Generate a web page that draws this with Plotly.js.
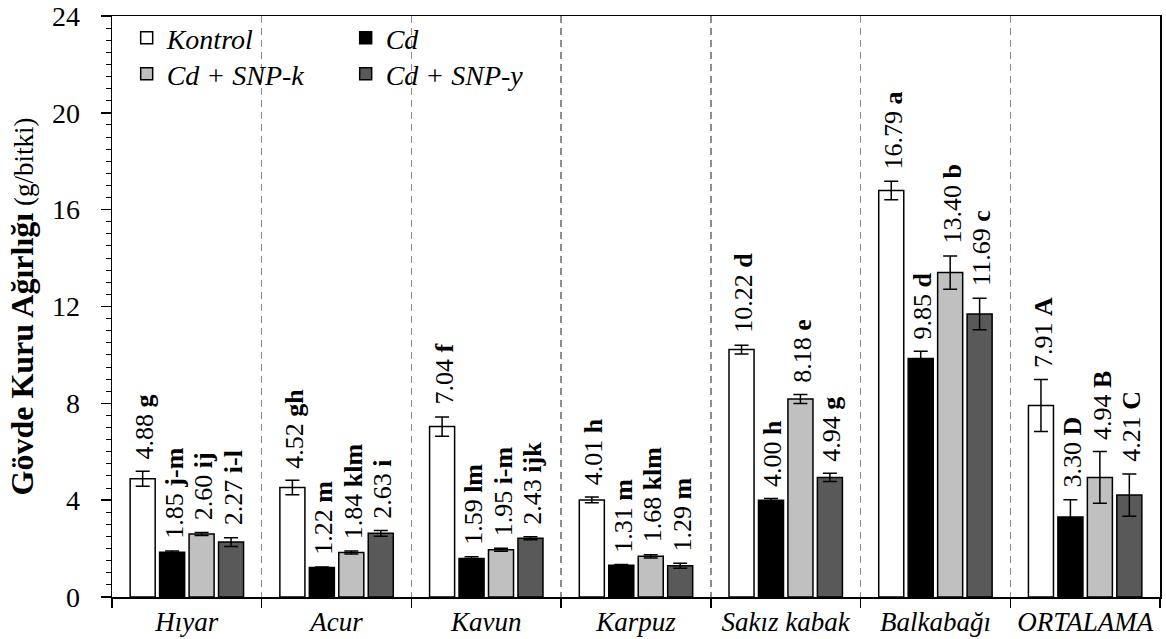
<!DOCTYPE html>
<html>
<head>
<meta charset="utf-8">
<script src="https://cdn.plot.ly/plotly-3.0.1.min.js"></script>
<style>html,body{margin:0;padding:0;background:#fff;}#chart{width:1166px;height:639px;}</style>
</head>
<body>
<div id="chart"></div>
<script>
const categories = ['Hıyar', 'Acur', 'Kavun', 'Karpuz', 'Sakız kabak', 'Balkabağı', 'ORTALAMA'];
const seriesNames = ['Kontrol', 'Cd', 'Cd + SNP-k', 'Cd + SNP-y'];

const kontrol = [4.88, 4.52, 7.04, 4.01, 10.22, 16.79, 7.91];
const cd      = [1.85, 1.22, 1.59, 1.31, 4.00, 9.85, 3.30];
const snpK    = [2.60, 1.84, 1.95, 1.68, 8.18, 13.40, 4.94];
const snpY    = [2.27, 2.63, 2.43, 1.29, 4.94, 11.69, 4.21];

const errKontrol = [0.31, 0.30, 0.40, 0.12, 0.18, 0.38, 1.07];
const errCd      = [0.05, 0.02, 0.07, 0.03, 0.07, 0.30, 0.72];
const errSnpK    = [0.06, 0.06, 0.06, 0.07, 0.19, 0.69, 1.07];
const errSnpY    = [0.18, 0.12, 0.06, 0.10, 0.17, 0.65, 0.87];

const letKontrol = ['g', 'gh', 'f', 'h', 'd', 'a', 'A'];
const letCd      = ['j-m', 'm', 'lm', 'm', 'h', 'd', 'D'];
const letSnpK    = ['ij', 'klm', 'i-m', 'klm', 'e', 'b', 'B'];
const letSnpY    = ['i-l', 'i', 'ijk', 'm', 'g', 'c', 'C'];

const values = [kontrol, cd, snpK, snpY];
const errors = [errKontrol, errCd, errSnpK, errSnpY];
const letters = [letKontrol, letCd, letSnpK, letSnpY];
const colors = ['#ffffff', '#000000', '#c0c0c0', '#595959'];
const legendIds = ['legend', 'legend', 'legend2', 'legend2'];

const FONT = 'Liberation Serif';
const bargap = 0.213;
const bargroupgap = 0.15;

const traces = values.map((v, si) => ({
  type: 'bar',
  name: seriesNames[si],
  x: categories,
  y: v,
  legend: legendIds[si],
  marker: {color: colors[si], line: {color: '#000', width: 1.5}},
  error_y: {type: 'data', array: errors[si], visible: true, color: '#000', thickness: 1.5, width: 7},
  hoverinfo: 'skip'
}));

const slot = (1 - bargap) / values.length;
const annotations = [];
values.forEach((v, si) => {
  v.forEach((val, ci) => {
    annotations.push({
      xref: 'x', yref: 'y',
      x: ci + (si - (values.length - 1) / 2) * slot,
      y: val + errors[si][ci],
      text: val.toFixed(2) + ' <b>' + letters[si][ci] + '</b>',
      textangle: -90,
      showarrow: false,
      xanchor: 'center', yanchor: 'bottom',
      yshift: 11,
      xshift: 2,
      borderpad: 0,
      font: {family: FONT, size: 26, color: '#000'}
    });
  });
});

const legendBase = {
  orientation: 'h',
  xref: 'paper', yref: 'paper',
  x: 0.014, xanchor: 'left', yanchor: 'middle',
  bgcolor: 'rgba(0,0,0,0)',
  borderwidth: 0,
  itemwidth: 30,
  entrywidth: 174,
  traceorder: 'normal',
  font: {family: FONT, size: 28, color: '#000', style: 'italic'}
};

const layout = {
  width: 1166, height: 639,
  margin: {l: 112, r: 6, t: 16, b: 42},
  paper_bgcolor: '#fff', plot_bgcolor: '#fff',
  barmode: 'group', bargap: bargap, bargroupgap: bargroupgap,
  font: {family: FONT, color: '#000'},
  showlegend: true,
  legend: Object.assign({}, legendBase, {y: 0.962}),
  legend2: Object.assign({}, legendBase, {y: 0.9}),
  xaxis: {
    type: 'category',
    tickson: 'boundaries',
    tickangle: 0,
    ticks: 'outside', ticklen: 9, tickwidth: 1.5, tickcolor: '#000',
    showline: true, linecolor: '#000', linewidth: 1.5, mirror: true,
    showgrid: true, gridcolor: '#8c8c8c', gridwidth: 1.5, griddash: '7px,5px',
    tickfont: {family: FONT, size: 27, color: '#000', style: 'italic'},
    fixedrange: true
  },
  yaxis: {
    range: [0, 24], dtick: 4, tick0: 0,
    ticks: 'outside', ticklen: 10, tickwidth: 1.5, tickcolor: '#000',
    minor: {dtick: 0.5, ticks: 'outside', ticklen: 5, tickwidth: 1, tickcolor: '#000', showgrid: false},
    showline: true, linecolor: '#000', linewidth: 1.5, mirror: true,
    showgrid: false, zeroline: false,
    ticklabelstandoff: 15,
    tickfont: {family: FONT, size: 28, color: '#000'},
    title: {
      text: '<b><span style="font-size:32px">Gövde Kuru Ağırlığı</span></b> (g/bitki)',
      font: {family: FONT, size: 27, color: '#000'},
      standoff: 10
    },
    fixedrange: true
  },
  annotations: annotations
};

Plotly.newPlot('chart', traces, layout, {displayModeBar: false, staticPlot: true});
</script>
</body>
</html>
